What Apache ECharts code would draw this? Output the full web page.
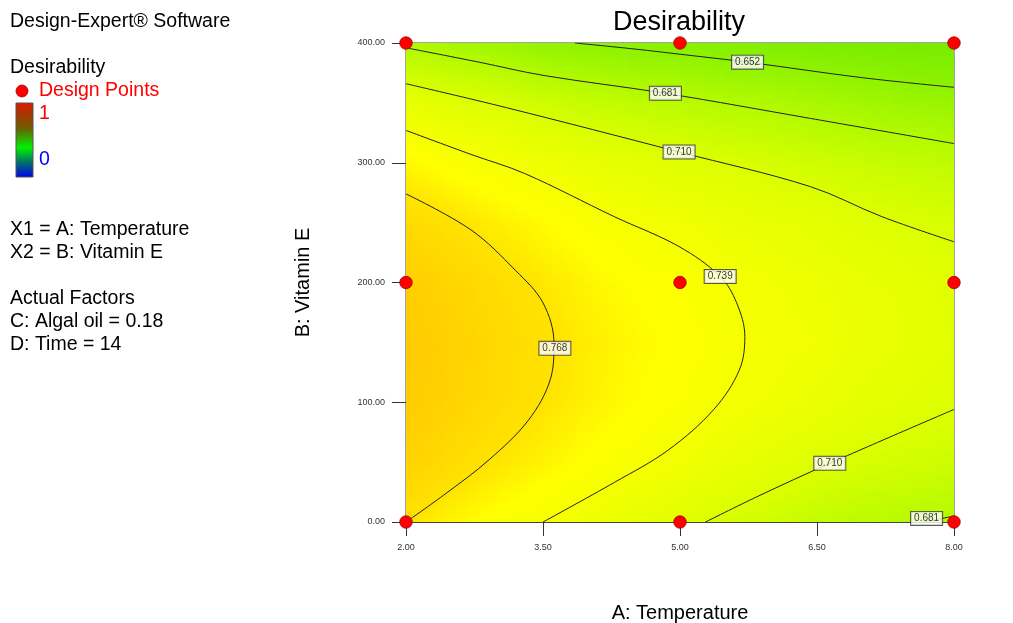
<!DOCTYPE html>
<html><head><meta charset="utf-8">
<script src="https://cdn.jsdelivr.net/npm/echarts@6/dist/echarts.min.js"></script>
<style>html,body{margin:0;padding:0;background:#fff}#c{width:1013px;height:623px}</style>
</head><body><div id="c"></div><script>
// ---- data ----
const temperatureTicks = [2, 3.5, 5, 6.5, 8];
const vitaminETicks = [0, 100, 200, 300, 400];
const gridTemperature = [2, 2.5, 3, 3.5, 4, 4.5, 5, 5.5, 6, 6.5, 7, 7.5, 8];
const gridVitaminE = [0, 50, 100, 150, 200, 250, 300, 350, 400];
// desirability estimated at grid points; rows = vitamin E, cols = temperature
const desirabilityGrid = [
  [0.768, 0.756, 0.746, 0.739, 0.731, 0.723, 0.715, 0.706, 0.700, 0.692, 0.686, 0.683, 0.679],
  [0.787, 0.776, 0.766, 0.757, 0.748, 0.741, 0.734, 0.726, 0.719, 0.712, 0.706, 0.702, 0.698],
  [0.797, 0.787, 0.776, 0.768, 0.759, 0.751, 0.745, 0.738, 0.732, 0.727, 0.720, 0.716, 0.711],
  [0.799, 0.789, 0.779, 0.770, 0.761, 0.754, 0.749, 0.742, 0.737, 0.733, 0.727, 0.722, 0.717],
  [0.793, 0.784, 0.774, 0.765, 0.756, 0.750, 0.745, 0.739, 0.734, 0.730, 0.724, 0.720, 0.715],
  [0.778, 0.769, 0.760, 0.752, 0.744, 0.738, 0.734, 0.728, 0.724, 0.719, 0.714, 0.710, 0.706],
  [0.755, 0.746, 0.739, 0.731, 0.724, 0.719, 0.714, 0.710, 0.705, 0.700, 0.696, 0.692, 0.689],
  [0.723, 0.715, 0.709, 0.700, 0.694, 0.689, 0.685, 0.680, 0.677, 0.672, 0.667, 0.663, 0.660],
  [0.677, 0.670, 0.664, 0.655, 0.651, 0.648, 0.645, 0.641, 0.639, 0.636, 0.633, 0.630, 0.629]
];
const designPoints = [[2,0],[5,0],[8,0],[2,200],[5,200],[8,200],[2,400],[5,400],[8,400]];
// contour lines [temperature, vitamin E]
const contour0652 = [[3.85,400],[4.5,395],[5.07,390],[5.74,384],[7,371],[8,363]];
const contour0681Top = [[2,396],[2.8,384],[3.5,373],[4.84,358],[6.43,337],[8,316]];
const contour0710Top = [[2,366],[3.1,346],[4.99,309],[6.43,280],[7.21,255],[8,234]];
const contour0739 = [[2,327],[2.71,307],[3.3,291],[4.28,255],[4.99,230],[5.44,205],[5.62,183],[5.71,155],[5.65,127],[5.37,94],[4.87,60],[4.28,33],[3.5,0]];
const contour0768 = [[2,274],[2.71,244],[3.2,210],[3.5,183],[3.62,149],[3.58,119],[3.34,85],[2.91,52],[2.44,24],[2,0]];
const contour0710Bottom = [[5.28,0],[5.84,21],[6.64,49],[8,94]];
const contour0681Bottom = [[7.68,0],[8,5]];
const contourLabelPos = [[5.74,384],[4.84,358],[4.99,309],[5.44,205],[3.63,145],[6.64,49],[7.70,3]];
const contourLabelText = ['0.652','0.681','0.710','0.739','0.768','0.710','0.681'];

// ---- styling ----
const FONT = "'Liberation Sans', Arial, sans-serif";
const colorStops = [
  [0.62,[112,232,0]],[0.65,[140,242,0]],[0.68,[180,250,0]],[0.71,[220,255,0]],
  [0.739,[246,255,0]],[0.75,[255,255,0]],[0.768,[255,226,0]],[0.785,[255,212,0]],[0.80,[255,202,0]]
];
function colorFor(v){
  if (v <= colorStops[0][0]) return 'rgb(' + colorStops[0][1].join(',') + ')';
  for (let i = 1; i < colorStops.length; i++) {
    if (v <= colorStops[i][0]) {
      const a = colorStops[i-1], b = colorStops[i];
      const t = (v - a[0]) / (b[0] - a[0]);
      const c = a[1].map((x, k) => Math.round(x + (b[1][k] - x) * t));
      return 'rgb(' + c.join(',') + ')';
    }
  }
  return 'rgb(' + colorStops[colorStops.length-1][1].join(',') + ')';
}

// cells for the shaded surface
const cells = [];
for (let j = 0; j < gridVitaminE.length - 1; j++) {
  for (let i = 0; i < gridTemperature.length - 1; i++) {
    cells.push([gridTemperature[i], gridVitaminE[j], gridTemperature[i+1], gridVitaminE[j+1],
      desirabilityGrid[j][i], desirabilityGrid[j][i+1], desirabilityGrid[j+1][i], desirabilityGrid[j+1][i+1]]);
  }
}
function renderCell(params, api){
  const a0 = api.value(0), b0 = api.value(1), a1 = api.value(2), b1 = api.value(3);
  const v00 = api.value(4), v10 = api.value(5), v01 = api.value(6), v11 = api.value(7);
  const p0 = api.coord([a0, b0]), p1 = api.coord([a1, b1]);
  const N = 10, w = (p1[0] - p0[0]) / N, h = (p0[1] - p1[1]) / N;
  const children = [];
  for (let k = 0; k < N; k++) for (let l = 0; l < N; l++) {
    const u = (k + 0.5) / N, t = (l + 0.5) / N;
    const v = v00*(1-u)*(1-t) + v10*u*(1-t) + v01*(1-u)*t + v11*u*t;
    children.push({type:'rect', silent:true,
      shape:{x:p0[0] + k*w, y:p0[1] - (l+1)*h, width:w + 0.7, height:h + 0.7},
      style:{fill:colorFor(v)}});
  }
  return {type:'group', children};
}
function contourSeries(data){
  return {type:'line', data, showSymbol:false, smooth:0.35, silent:true, z:3, clip:true,
    lineStyle:{color:'#222', width:1}};
}
const leftText = (text, y, color, size) => ({type:'text', left:10, top:y - 10,
  style:{text, fill:color || '#000', font: (size||19.5) + 'px ' + FONT}});

const chart = echarts.init(document.getElementById('c'), null, {renderer:'canvas'});
chart.setOption({
  animation:false,
  backgroundColor:'#fff',
  grid:{left:406, top:43, width:548, height:479, show:true, borderColor:'#444', borderWidth:1,
    backgroundColor:'transparent', containLabel:false, outerBoundsMode:'none'},
  xAxis:{type:'value', min:2, max:8, name:'A: Temperature', nameLocation:'middle', nameGap:81,
    nameTextStyle:{fontSize:20, color:'#000', fontFamily:FONT},
    axisLine:{show:true, lineStyle:{color:'#444'}},
    axisTick:{show:true, inside:false, length:14, customValues:temperatureTicks, lineStyle:{color:'#333'}},
    axisLabel:{customValues:temperatureTicks, formatter:v => v.toFixed(2), fontSize:9, color:'#333', margin:21, fontFamily:FONT},
    splitLine:{show:false}},
  yAxis:{type:'value', min:0, max:400, interval:100, name:'B: Vitamin E', nameLocation:'middle', nameGap:93, nameRotate:90,
    nameTextStyle:{fontSize:20, color:'#000', fontFamily:FONT},
    axisLine:{show:true, lineStyle:{color:'#444'}},
    axisTick:{show:true, inside:false, length:14, lineStyle:{color:'#333'}},
    axisLabel:{formatter:v => v.toFixed(2), fontSize:9, color:'#333', margin:21, fontFamily:FONT},
    splitLine:{show:false}},
  series:[
    {type:'custom', data:cells, renderItem:renderCell, clip:true, silent:true, z:1,
      encode:{x:[0,2], y:[1,3]}},
    contourSeries(contour0652),
    contourSeries(contour0681Top),
    contourSeries(contour0710Top),
    contourSeries(contour0739),
    contourSeries(contour0768),
    contourSeries(contour0710Bottom),
    contourSeries(contour0681Bottom),
    {type:'scatter', z:5, silent:true, symbolSize:1, itemStyle:{color:'rgba(0,0,0,0)'},
      data: contourLabelPos.map((p, i) => ({value:p, name:contourLabelText[i]})),
      label:{show:true, position:'inside', formatter:'{b}', fontSize:10, color:'#000', fontFamily:FONT,
        backgroundColor:'#fff', borderColor:'#333', borderWidth:1, padding:[2,3,1,3]}},
    {type:'scatter', z:6, silent:true, clip:false, symbol:'circle', symbolSize:12.5, data:designPoints,
      itemStyle:{color:'#ff0000', borderColor:'#a00000', borderWidth:0.8, opacity:1}}
  ],
  graphic:[
    {type:'text', x:679, y:23, style:{text:'Desirability', fill:'#000', font:'27px ' + FONT, align:'center', verticalAlign:'middle'}},
    leftText('Design-Expert® Software', 22),
    leftText('Desirability', 68),
    {type:'circle', shape:{cx:22, cy:91, r:6}, style:{fill:'#ff0000', stroke:'#a00000', lineWidth:0.8}},
    {type:'text', left:39, top:81, style:{text:'Design Points', fill:'#ff0000', font:'19.5px ' + FONT}},
    {type:'rect', shape:{x:16, y:103, width:17, height:74},
      style:{stroke:'#555', lineWidth:1, fill:{type:'linear', x:0, y:0, x2:0, y2:1, colorStops:[
        {offset:0, color:'#dd1a00'},{offset:0.18, color:'#a03a00'},{offset:0.35, color:'#6a6000'},
        {offset:0.6, color:'#00f000'},{offset:0.8, color:'#00706a'},{offset:1, color:'#0000ee'}]}}},
    {type:'text', left:39, top:104, style:{text:'1', fill:'#ff0000', font:'19.5px ' + FONT}},
    {type:'text', left:39, top:150, style:{text:'0', fill:'#0000ff', font:'19.5px ' + FONT}},
    leftText('X1 = A: Temperature', 230),
    leftText('X2 = B: Vitamin E', 253),
    leftText('Actual Factors', 299),
    leftText('C: Algal oil = 0.18', 322),
    leftText('D: Time = 14', 345)
  ]
});
</script></body></html>
